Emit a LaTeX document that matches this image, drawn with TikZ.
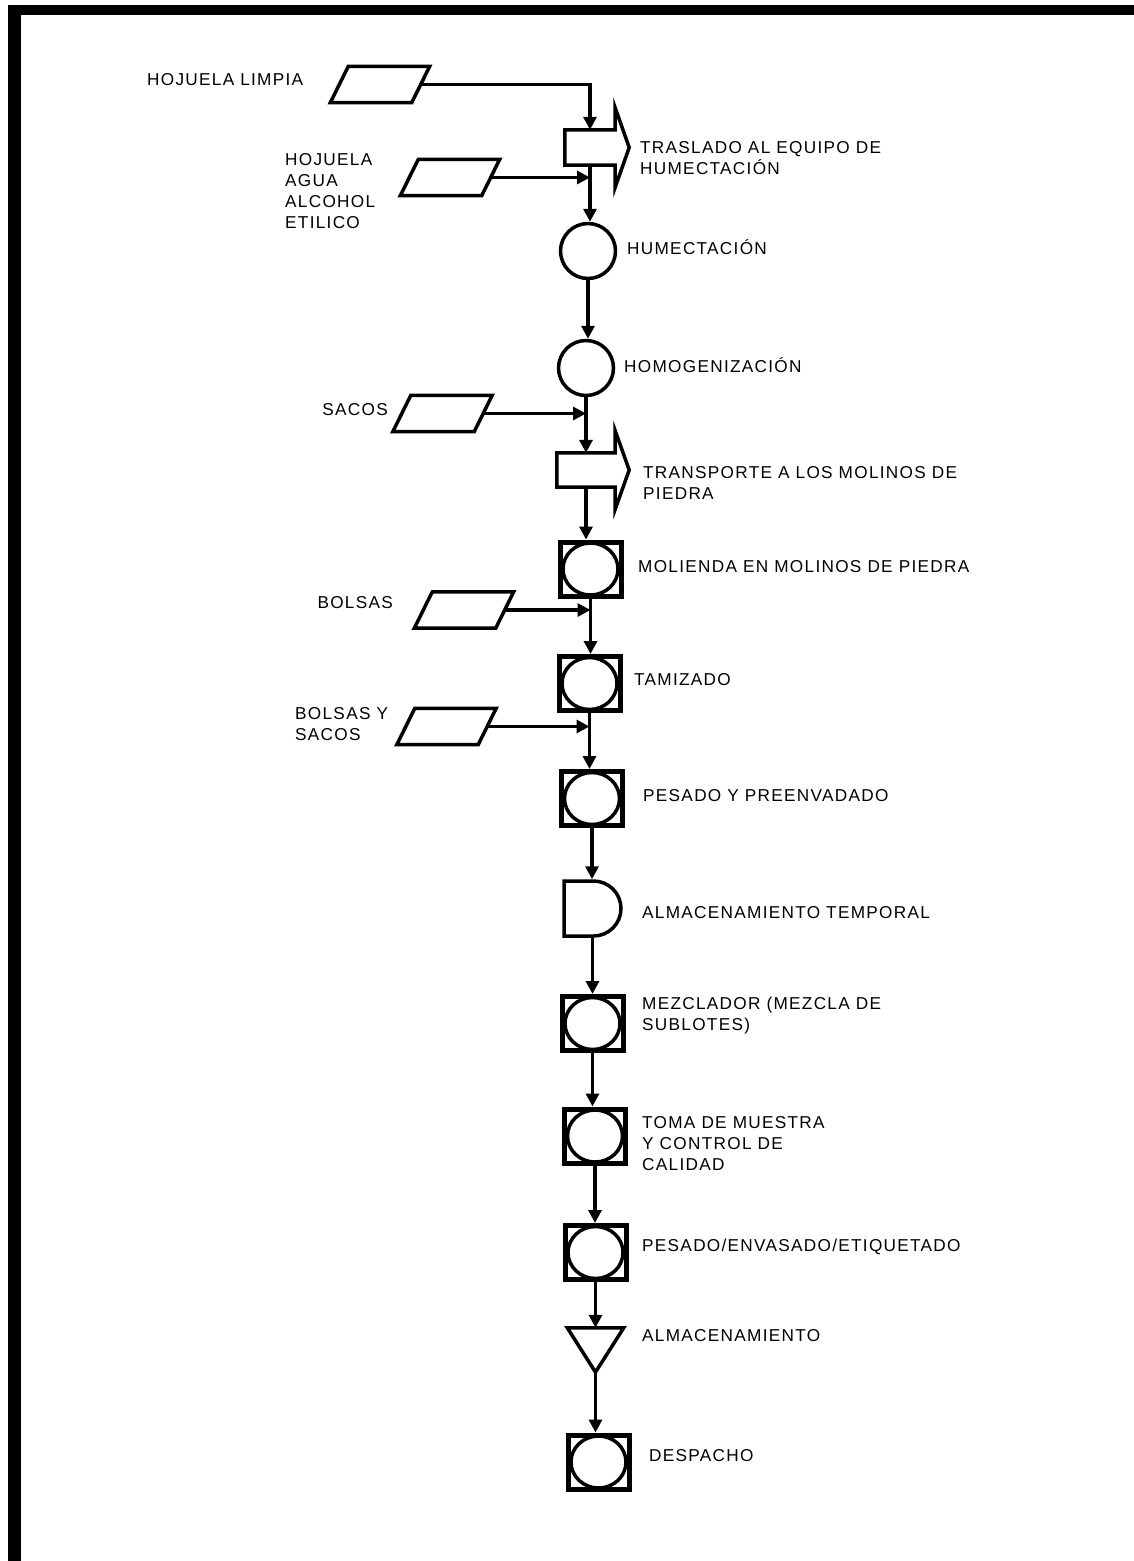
\documentclass[tikz,border=0pt]{standalone}
\usepackage{fontspec}
\setmainfont{Liberation Sans}[LetterSpace=7.5]
\usetikzlibrary{arrows.meta,calc,shapes.misc}

\begin{document}
\begin{tikzpicture}[x=1pt, y=-1pt,
    txt/.style={font=\fontsize{17.2}{21}\selectfont, align=left, inner sep=0pt},
    lbl/.style={txt, anchor=west},
    opn/.style={draw, circle, line width=3.5pt, minimum size=55pt, inner sep=0pt},
    combo/.style={draw, rectangle, line width=5pt, minimum width=61pt, minimum height=54pt, inner sep=0pt,
                path picture={\draw[line width=3.5pt] (path picture bounding box.center) ellipse [x radius=27.5pt, y radius=26pt];}},
    hold/.style={draw, rounded rectangle, rounded rectangle west arc=none, line width=3.5pt,
                minimum width=57pt, minimum height=55pt, inner sep=0pt},
    body/.style={rectangle, inner sep=0pt},
    inp/.style={body, minimum width=81pt, minimum height=36pt},
    shp/.style={line width=3.5pt, line join=miter},
    flow/.style={-{Triangle[length=13pt,width=13pt]}, line width=3.3pt}
]
\useasboundingbox (0,0) rectangle (1134,1561);
\fill (8,5) rectangle (1134,15);
\fill (8,5) rectangle (21,1561);

\node[body, minimum width=50pt, minimum height=35pt] (tr1) at (590,147.5) {};
\node[opn] (hum) at (588,251) {};
\node[opn] (hom) at (586,368) {};
\node[body, minimum width=58pt, minimum height=34pt] (tr2) at (586,470) {};
\node[combo] (mol) at (590.5,569) {};
\node[combo] (tam) at (589.5,683.5) {};
\node[combo] (pes) at (592,798.5) {};
\node[hold] (tmp) at (592.5,908.5) {};
\node[combo] (mez) at (592.5,1023.5) {};
\node[combo] (mue) at (595,1136) {};
\node[combo] (env) at (595.5,1252.5) {};
\node[body, minimum width=56pt, minimum height=44pt] (alm) at (595.5,1350) {};
\node[combo] (des) at (598.5,1462) {};

\foreach \n in {tr1,tr2}
  \draw[shp] (\n.north west) -- (\n.north east) -- ++(0,-22) -- ($(\n.east)+(14,0)$)
    -- ($(\n.south east)+(0,22)$) -- (\n.south east) -- (\n.south west) -- cycle;
\draw[shp] (alm.north west) -- (alm.north east) -- (alm.south) -- cycle;

\node[inp] (p1) at (380,84.5) {};
\node[inp] (p2) at (450,177.5) {};
\node[inp] (p3) at (442.5,413.5) {};
\node[inp] (p4) at (464,610) {};
\node[inp] (p5) at (446.5,726.5) {};
\foreach \n in {p1,p2,p3,p4,p5}
  \draw[shp] ($(\n.north west)+(9,0)$) -- ($(\n.north east)+(9,0)$)
    -- ($(\n.south east)+(-9,0)$) -- ($(\n.south west)+(-9,0)$) -- cycle;

\node[txt, anchor=west] (l1) at (147,80) {HOJUELA LIMPIA};
\node[txt, anchor=west] (l2) at (285,191.5) {HOJUELA\\AGUA\\ALCOHOL\\ETILICO};
\node[txt, anchor=east] (l3) at (388,410) {SACOS};
\node[txt, anchor=east] (l4) at (393,603) {BOLSAS};
\node[txt, anchor=west] (l5) at (295,724) {BOLSAS Y\\SACOS};

\node[lbl] (t1) at (640,158) {TRASLADO AL EQUIPO DE\\HUMECTACIÓN};
\node[lbl] (t2) at (627,247) {HUMECTACIÓN};
\node[lbl] (t3) at (624,365) {HOMOGENIZACIÓN};
\node[lbl] (t4) at (643,483) {TRANSPORTE A LOS MOLINOS DE\\PIEDRA};
\node[lbl] (t5) at (638,567) {MOLIENDA EN MOLINOS DE PIEDRA};
\node[lbl] (t6) at (634,680) {TAMIZADO};
\node[lbl] (t7) at (643,796) {PESADO Y PREENVADADO};
\node[lbl] (t8) at (642,913) {ALMACENAMIENTO TEMPORAL};
\node[lbl] (t9) at (642,1015.5) {MEZCLADOR (MEZCLA DE\\SUBLOTES)};
\node[lbl] (t10) at (642,1144) {TOMA DE MUESTRA\\Y CONTROL DE\\CALIDAD};
\node[lbl] (t11) at (642,1247) {PESADO/ENVASADO/ETIQUETADO};
\node[lbl] (t12) at (642,1336) {ALMACENAMIENTO};
\node[lbl] (t13) at (649,1456) {DESPACHO};

\draw[flow] (p1.east) -| (tr1.north);
\draw[flow] (tr1.south) -- (tr1.south |- hum.north);
\draw[flow] (p2.east) -- (p2.east -| tr1.south);
\draw[flow] (hum.south) -- (hum.south |- hom.north);
\draw[flow] (hom.south) -- (hom.south |- tr2.north);
\draw[flow] (p3.east) -- (p3.east -| hom.south);
\draw[flow] (tr2.south) -- (tr2.south |- mol.north);
\draw[flow] (mol.south) -- (mol.south |- tam.north);
\draw[flow] (p4.east) -- (p4.east -| mol.south);
\draw[flow] (tam.south) -- (tam.south |- pes.north);
\draw[flow] (p5.east) -- (p5.east -| tam.south);
\draw[flow] (pes.south) -- (pes.south |- tmp.north);
\draw[flow] (tmp.south) -- (tmp.south |- mez.north);
\draw[flow] (mez.south) -- (mez.south |- mue.north);
\draw[flow] (mue.south) -- (mue.south |- env.north);
\draw[flow] (env.south) -- (env.south |- alm.north);
\draw[flow] (alm.south) -- (alm.south |- des.north);
\end{tikzpicture}
\end{document}
